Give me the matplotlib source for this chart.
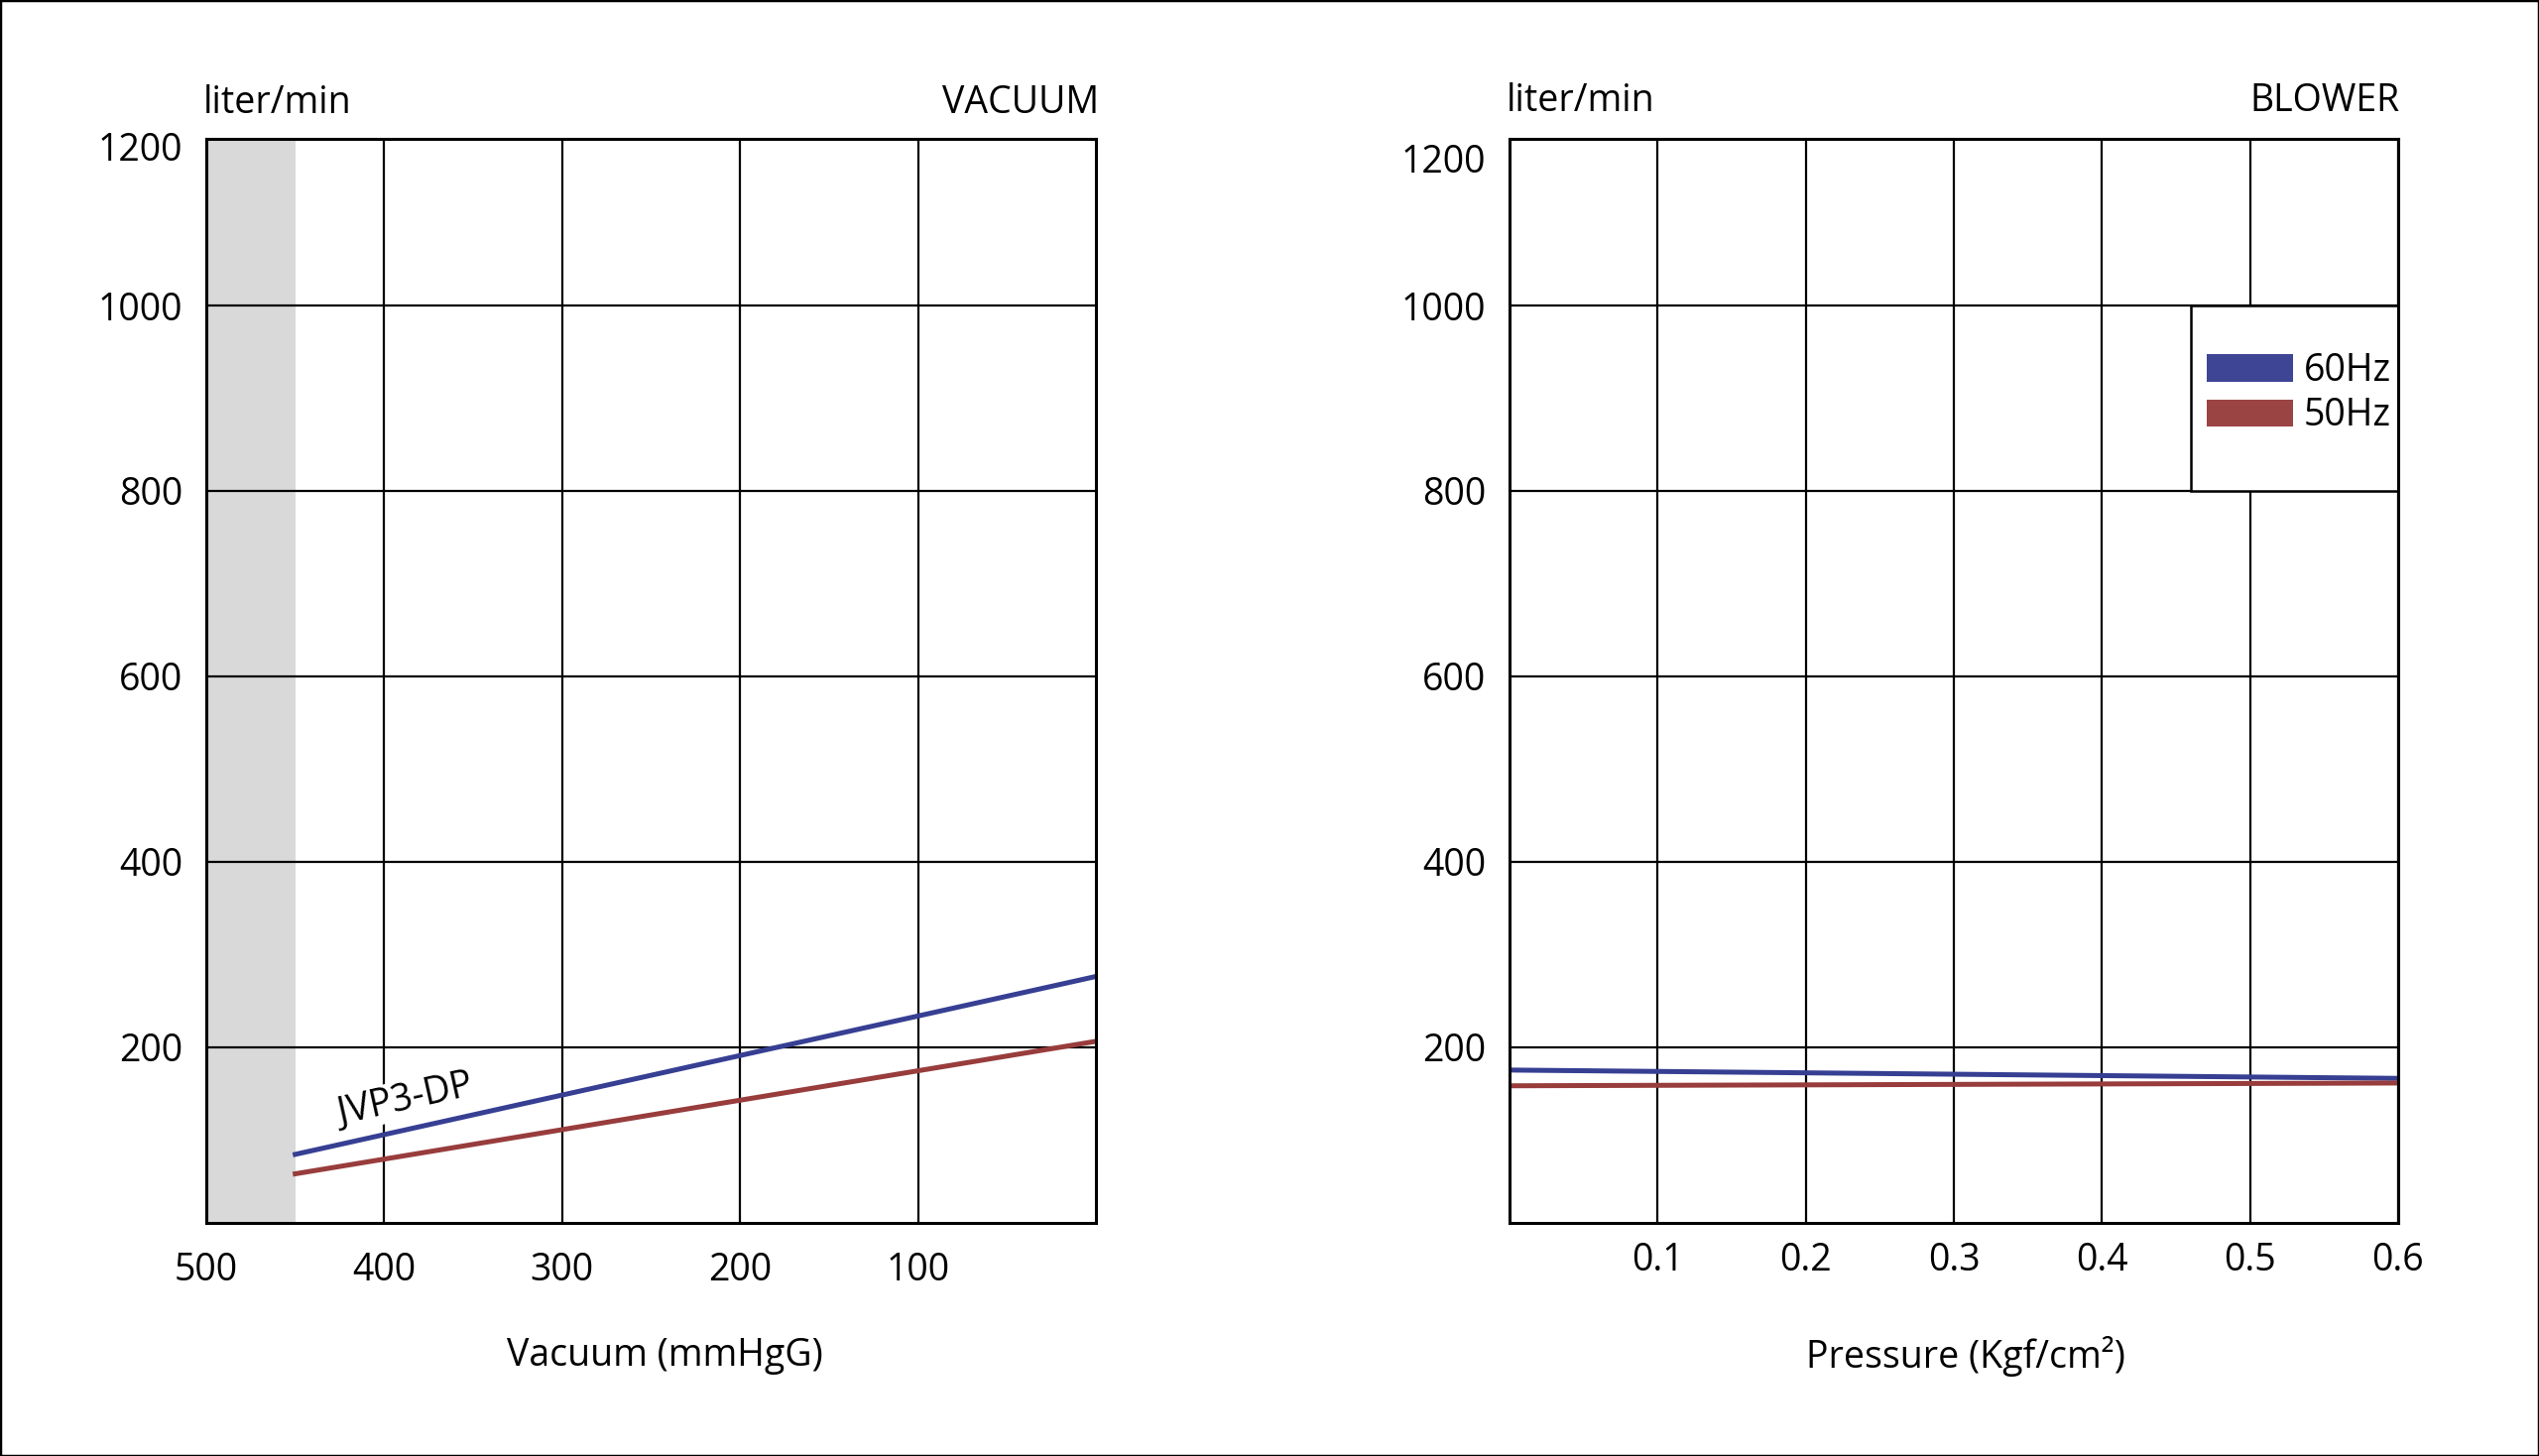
import matplotlib
matplotlib.use("Agg")
import matplotlib.pyplot as plt
from matplotlib.patches import Patch, Rectangle

plt.rcParams['font.family'] = ['Open Sans', 'DejaVu Sans']

# vacuum side (mmHgG, reversed axis)
vac_x = [450, 0]
vac_60hz = [84, 276]
vac_50hz = [63, 206]
vac_ticks = [500, 400, 300, 200, 100]
vac_shade = (500, 450)

# blower side (Kgf/cm2)
blow_x = [0, 0.6]
blow_60hz = [175, 166]
blow_50hz = [158, 161]
blow_ticks = [0.1, 0.2, 0.3, 0.4, 0.5, 0.6]

flow_ticks = [200, 400, 600, 800, 1000, 1200]

BLUE = '#363f92'
RED = '#983c3c'
FS = 27

fig = plt.figure(figsize=(25.6, 14.68), dpi=100)
fig.patches.append(Rectangle((0, 0), 1, 1, transform=fig.transFigure,
                             fill=False, edgecolor='black', linewidth=2.5))

ax1 = fig.add_axes([0.08125, 0.16008, 0.35039, 0.74455])
ax2 = fig.add_axes([0.59453, 0.16008, 0.35, 0.74455])


def style(ax, top_label_y):
    # the chart's top band is drawn a little short, so the frame stops below 1200
    ax.set_ylim(10, 1180)
    ax.set_yticks(flow_ticks[:-1])
    ax.annotate(str(flow_ticks[-1]), xy=(0, top_label_y), xycoords='axes fraction',
                xytext=(-17, 0), textcoords='offset points',
                ha='right', va='center', fontsize=FS)
    ax.grid(True, color='black', linewidth=1.6)
    ax.set_axisbelow(True)
    for s in ax.spines.values():
        s.set_linewidth(2.2)
        s.set_color('black')
        s.set_zorder(5)
    ax.tick_params(length=0, labelsize=FS)
    ax.tick_params(axis='y', pad=17)


# ---- left: vacuum
style(ax1, 0.989)
ax1.set_xlim(500, 0)
ax1.set_xticks(vac_ticks)
ax1.tick_params(axis='x', pad=21)
ax1.axvspan(*vac_shade, color='#d9d9d9', linewidth=0, zorder=0.5)
ax1.plot(vac_x, vac_60hz, color=BLUE, linewidth=3.6, zorder=3)
ax1.plot(vac_x, vac_50hz, color=RED, linewidth=3.6, zorder=3)
lx = 386
ly = vac_60hz[0] + (vac_x[0] - lx) / (vac_x[0] - vac_x[1]) * (vac_60hz[1] - vac_60hz[0])
ax1.annotate('JVP3-DP', xy=(lx, ly), xytext=(0, 8), textcoords='offset points',
             rotation=12.5, rotation_mode='anchor', ha='center', va='bottom',
             fontsize=27, zorder=2.5,
             bbox=dict(facecolor='white', edgecolor='none', pad=0.5))
ax1.annotate('liter/min', xy=(0, 1), xycoords='axes fraction', xytext=(-2, 19),
             textcoords='offset points', ha='left', va='baseline', fontsize=FS)
ax1.annotate('VACUUM', xy=(1, 1), xycoords='axes fraction', xytext=(2, 19),
             textcoords='offset points', ha='right', va='baseline', fontsize=FS)
ax1.text(0.516, -0.123, 'Vacuum (mmHgG)', transform=ax1.transAxes,
         ha='center', va='center', fontsize=FS)

# ---- right: blower
style(ax2, 0.978)
ax2.set_xlim(0, 0.6)
ax2.set_xticks(blow_ticks)
ax2.set_xticklabels([f'{t:.1f}' for t in blow_ticks])
ax2.tick_params(axis='x', pad=14)
ax2.plot(blow_x, blow_60hz, color=BLUE, linewidth=3.6, zorder=3)
ax2.plot(blow_x, blow_50hz, color=RED, linewidth=3.6, zorder=3)
ax2.annotate('liter/min', xy=(0, 1), xycoords='axes fraction', xytext=(-2, 20),
             textcoords='offset points', ha='left', va='baseline', fontsize=FS)
ax2.annotate('BLOWER', xy=(1, 1), xycoords='axes fraction', xytext=(1, 20),
             textcoords='offset points', ha='right', va='baseline', fontsize=FS)
ax2.text(0.513, -0.123, 'Pressure (Kgf/cm²)', transform=ax2.transAxes,
         ha='center', va='center', fontsize=FS)

ax2.add_patch(Rectangle((0.46, 800), 0.14, 200, facecolor='white',
                        edgecolor='black', linewidth=1.8, zorder=4))
handles = [Patch(facecolor='#3f4595', edgecolor='none', label='60Hz'),
           Patch(facecolor='#9a4444', edgecolor='none', label='50Hz')]
ax2.legend(handles=handles, loc='upper left', bbox_to_anchor=(0.471, 950),
           bbox_transform=ax2.transData, frameon=False, fontsize=FS,
           handlelength=2.3, handleheight=0.75, handletextpad=0.3,
           labelspacing=0.2, borderpad=0, borderaxespad=0).set_zorder(6)

fig.savefig('out.png', dpi=100)
